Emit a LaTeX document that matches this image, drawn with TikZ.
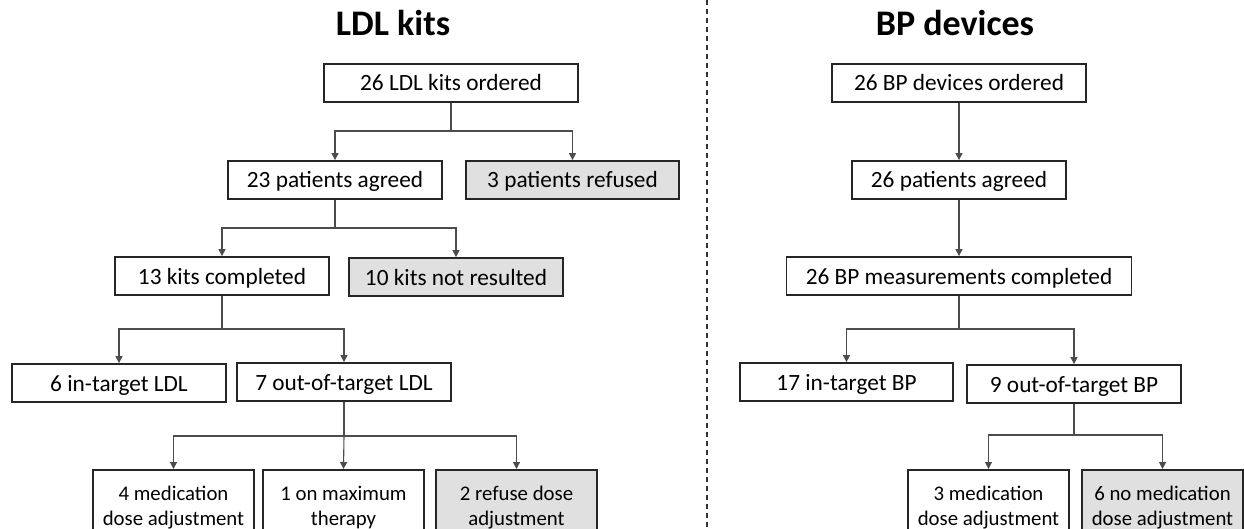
\documentclass[tikz,border=0pt]{standalone}
\usepackage{fontspec}
\setmainfont{Carlito}
\usetikzlibrary{arrows.meta}
\begin{document}
\begin{tikzpicture}[x=1pt,y=-1pt,
  box/.style={draw=black!85, line width=1.8pt, fill=white, minimum height=38pt, inner sep=1pt, text height=16pt, text depth=0pt, font=\fontsize{23.3}{28}\selectfont},
  greybox/.style={fill=black!12},
  low/.style={draw=black!85, line width=1.8pt, fill=white, inner sep=1pt, minimum height=75pt, align=center, font=\fontsize{20.8}{25.5}\selectfont, anchor=north},
  conn/.style={draw=black!70, line width=1.1pt},
  arr/.style={conn, -{Triangle[length=7pt,width=7pt]}},
  ttl/.style={font=\fontsize{36}{40}\selectfont\bfseries, anchor=base, inner sep=0pt}]
\useasboundingbox (0,0) rectangle (1244,529);
\clip (0,0) rectangle (1244,529);
\fill[white] (0,0) rectangle (1244,529);

% divider
\coordinate (dtop) at (707,0);
\coordinate (dbot) at (707,529);
\draw[black!80, line width=1.3pt, dash pattern=on 5pt off 4pt] (dtop) -- (dbot);

% titles
\node[ttl] (tl) at (393,36) {LDL kits};
\node[ttl] (tb) at (955,36) {BP devices};

% ---------- LDL ----------
\node[box, minimum width=254pt] (l1) at (451,83) {26 LDL kits ordered};
\node[box, minimum width=214pt] (l2a) at (335,180) {23 patients agreed};
\node[box, greybox, minimum width=213pt] (l2b) at (572.5,180) {3 patients refused};
\node[box, minimum width=214pt] (l3a) at (222,276) {13 kits completed};
\node[box, greybox, minimum width=214pt] (l3b) at (456,277) {10 kits not resulted};
\node[box, minimum width=214pt] (l4a) at (119,383) {6 in-target LDL};
\node[box, minimum width=214pt] (l4b) at (344,382) {7 out-of-target LDL};
\node[low, minimum width=161pt] (l5a) at (173.5,469) {4 medication\\dose adjustment};
\node[low, minimum width=161pt] (l5b) at (343.5,469) {1 on maximum\\therapy};
\node[low, greybox, minimum width=161pt] (l5c) at (516.5,469) {2 refuse dose\\adjustment};

\coordinate (j1) at (451,131);
\coordinate (j2) at (335,228);
\coordinate (j3) at (222,329);
\coordinate (j4) at (344,436);

\draw[conn] (l1.south) -- (j1);
\draw[arr] (j1) -| (l2a.north);
\draw[arr] (j1) -| (l2b.north);
\draw[conn] (l2a.south) -- (j2);
\draw[arr] (j2) -| (l3a.north);
\draw[arr] (j2) -| (l3b.north);
\draw[conn] (l3a.south) -- (j3);
\draw[arr] (j3) -| (l4a.north);
\draw[arr] (j3) -| (l4b.north);
\draw[conn] (l4b.south) -- (j4);
\draw[arr] (j4) -| (l5a.north);
\draw[arr] (j4) -- (l5b.north);
\draw[arr] (j4) -| (l5c.north);

% ---------- BP ----------
\node[box, minimum width=254pt] (b1) at (959,83) {26 BP devices ordered};
\node[box, minimum width=214pt] (b2) at (959,180) {26 patients agreed};
\node[box, minimum width=345pt] (b3) at (959,276) {26 BP measurements completed};
\node[box, minimum width=213pt] (b4a) at (846.5,382) {17 in-target BP};
\node[box, minimum width=214pt] (b4b) at (1074,384) {9 out-of-target BP};
\node[low, minimum width=161pt] (b5a) at (988.5,469) {3 medication\\dose adjustment};
\node[low, greybox, minimum width=161pt] (b5b) at (1162.5,469) {6 no medication\\dose adjustment};

\coordinate (j5) at (959,329);
\coordinate (j6) at (1074,435);

\draw[arr] (b1.south) -- (b2.north);
\draw[arr] (b2.south) -- (b3.north);
\draw[conn] (b3.south) -- (j5);
\draw[arr] (j5) -| (b4a.north);
\draw[arr] (j5) -| (b4b.north);
\draw[conn] (b4b.south) -- (j6);
\draw[arr] (j6) -| (b5a.north);
\draw[arr] (j6) -| (b5b.north);
\end{tikzpicture}
\end{document}
